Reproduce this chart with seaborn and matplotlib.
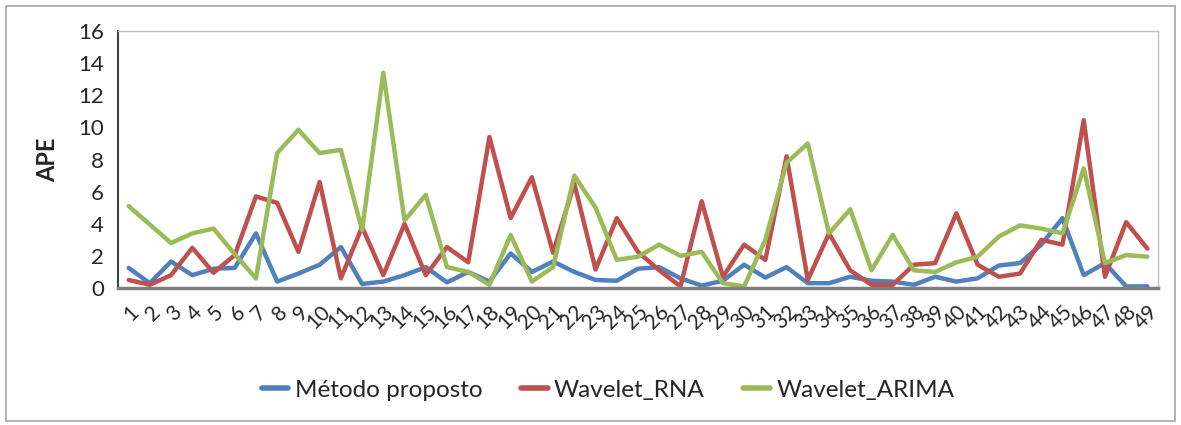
import numpy as np
import pandas as pd
import matplotlib
matplotlib.use("Agg")
import matplotlib.pyplot as plt
import seaborn as sns
from matplotlib.patches import Rectangle

# Observation index (1..49)
categories = [str(i) for i in range(1, 50)]

metodo_proposto = [1.25, 0.3, 1.65, 0.8, 1.2, 1.25, 3.4, 0.4, 0.9, 1.45,
                   2.55, 0.25, 0.4, 0.8, 1.3, 0.35, 1.0, 0.4, 2.15, 1.0,
                   1.65, 1.0, 0.5, 0.45, 1.2, 1.3, 0.6, 0.15, 0.45, 1.45,
                   0.65, 1.3, 0.3, 0.3, 0.7, 0.45, 0.4, 0.2, 0.7, 0.4,
                   0.6, 1.4, 1.55, 2.7, 4.35, 0.8, 1.55, 0.1, 0.1]

wavelet_rna = [0.5, 0.2, 0.8, 2.5, 0.95, 2.05, 5.7, 5.3, 2.25, 6.6,
               0.6, 3.8, 0.8, 4.0, 0.8, 2.55, 1.6, 9.4, 4.35, 6.9,
               2.2, 6.5, 1.15, 4.35, 2.25, 1.1, 0.1, 5.4, 0.7, 2.7,
               1.75, 8.2, 0.5, 3.4, 1.1, 0.2, 0.2, 1.45, 1.55, 4.65,
               1.45, 0.7, 0.9, 3.0, 2.7, 10.45, 0.7, 4.1, 2.45]

wavelet_arima = [5.1, 3.95, 2.8, 3.4, 3.7, 2.1, 0.6, 8.4, 9.85, 8.4,
                 8.6, 3.6, 13.4, 4.2, 5.8, 1.3, 1.0, 0.2, 3.3, 0.4,
                 1.3, 7.0, 5.0, 1.75, 1.95, 2.7, 2.0, 2.25, 0.3, 0.1,
                 3.0, 7.8, 9.0, 3.4, 4.9, 1.1, 3.3, 1.1, 1.0, 1.6,
                 1.95, 3.2, 3.9, 3.7, 3.4, 7.45, 1.55, 2.05, 1.95]

series_names = ["Método proposto", "Wavelet_RNA", "Wavelet_ARIMA"]
series_colors = ["#4F81BD", "#C0504D", "#9BBB59"]
y_ticks = [0, 2, 4, 6, 8, 10, 12, 14, 16]

positions = np.arange(1, len(categories) + 1)
frames = []
for name, values in zip(series_names, [metodo_proposto, wavelet_rna, wavelet_arima]):
    frames.append(pd.DataFrame({"pos": positions, "APE": values, "serie": name}))
df = pd.concat(frames, ignore_index=True)

sns.set_style("white")
plt.rcParams["font.family"] = ["Lato", "DejaVu Sans"]

fig = plt.figure(figsize=(11.81, 4.25), dpi=100)
ax = fig.add_axes([118 / 1181, 1 - 288 / 425, (1158 - 118) / 1181, (288 - 31) / 425])

sns.lineplot(data=df, x="pos", y="APE", hue="serie", hue_order=series_names,
             palette=series_colors, linewidth=3.2, ax=ax, legend=False,
             sort=False)

ax.set_xlim(0.5, len(categories) + 0.5)
ax.set_ylim(0, 16)
ax.set_yticks(y_ticks)
ax.set_yticklabels([str(t) for t in y_ticks], fontsize=16)
ax.set_xticks(positions)
ax.set_xticklabels(categories, fontsize=15, rotation=45, ha="right",
                   rotation_mode="anchor")
ax.tick_params(axis="y", length=0, pad=10)
ax.tick_params(axis="x", length=0, pad=10)
ax.set_xlabel("")
ax.set_ylabel("APE", fontsize=17, fontweight="bold", labelpad=14)

for side in ["top", "right"]:
    ax.spines[side].set_color("#BFBFBF")
    ax.spines[side].set_linewidth(1.0)
ax.spines["left"].set_color("#404040")
ax.spines["left"].set_linewidth(1.5)
ax.spines["bottom"].set_color("#7F7F7F")
ax.spines["bottom"].set_linewidth(2.5)

# Legend below the plot area
handles = [plt.Line2D([0], [0], color=c, linewidth=4) for c in series_colors]
fig.legend(handles, series_names, loc="center", ncol=3, frameon=False,
           bbox_to_anchor=(608 / 1181, 1 - 390 / 425), fontsize=17.5,
           handlelength=1.1, handletextpad=0.25, columnspacing=1.6)

# Chart border
fig.patches.append(Rectangle((6 / 1181, 4 / 425), 1169 / 1181, 415 / 425,
                             transform=fig.transFigure, fill=False,
                             edgecolor="#A6A6A6", linewidth=1.2))

fig.savefig("out.png", dpi=100)
